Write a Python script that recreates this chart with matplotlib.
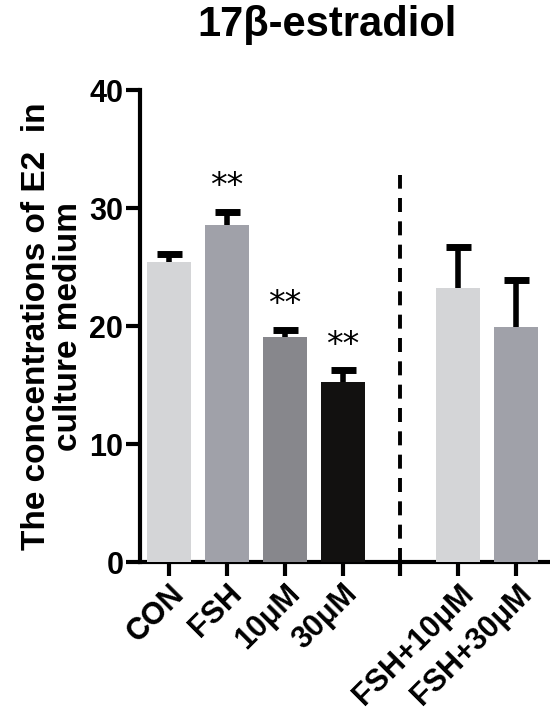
import numpy as np
import matplotlib
matplotlib.use("Agg")
import matplotlib.pyplot as plt

plt.rcParams['font.family'] = ['Liberation Sans', 'DejaVu Sans']

# data
labels = ["CON", "FSH", "10μM", "30μM", "", "FSH+10μM", "FSH+30μM"]
means = [25.4, 28.6, 19.1, 15.3, np.nan, 23.2, 19.9]
errs = [0.7, 1.1, 0.6, 1.0, np.nan, 3.5, 4.0]
stars = ["", "**", "**", "**", "", "", ""]
colors = ["#d4d5d7", "#a0a1a9", "#87878c", "#121110", "none", "#d4d5d7", "#a0a1a9"]

fig = plt.figure(figsize=(5.5, 7.28), dpi=100)
ax = fig.add_axes([0.2545, 0.228, 0.742, 0.648])

x = np.arange(len(labels))
for i in x:
    if np.isnan(means[i]):
        continue
    ax.bar(i, means[i], width=0.76, color=colors[i], zorder=3)
    ax.errorbar(i, means[i], yerr=errs[i], fmt='none', ecolor='black',
                elinewidth=4, capsize=9, capthick=5, zorder=2)
    if stars[i]:
        ax.text(i, means[i] + errs[i] + 0.7, stars[i], ha='center', va='bottom',
                fontsize=24, family='DejaVu Sans')

# separator
ax.plot([4, 4], [0, 32.8], ls=(0, (3.6, 2.4)), color='black', lw=2.8, zorder=1)

ax.set_xlim(-0.5, 6.55)
ax.set_ylim(0, 40)
ax.set_yticks([0, 10, 20, 30, 40])
ax.set_xticks(x)
ax.set_xticklabels(labels, rotation=45, ha='right', rotation_mode='anchor',
                   fontsize=22, fontweight='bold')
for t in ax.get_yticklabels():
    t.set_fontsize(22)
    t.set_fontweight('bold')

for s in ['top', 'right']:
    ax.spines[s].set_visible(False)
for s in ['left', 'bottom']:
    ax.spines[s].set_linewidth(3)
ax.tick_params(axis='both', width=3, length=10, pad=2)

ax.set_ylabel("The concentrations of E2  in\nculture medium", fontsize=24,
              fontweight='bold', labelpad=4, linespacing=1.05)
fig.text(0.595, 0.965, "17β-estradiol", ha='center', va='center',
         fontsize=30, fontweight='bold')

fig.savefig("out.png", dpi=100)
